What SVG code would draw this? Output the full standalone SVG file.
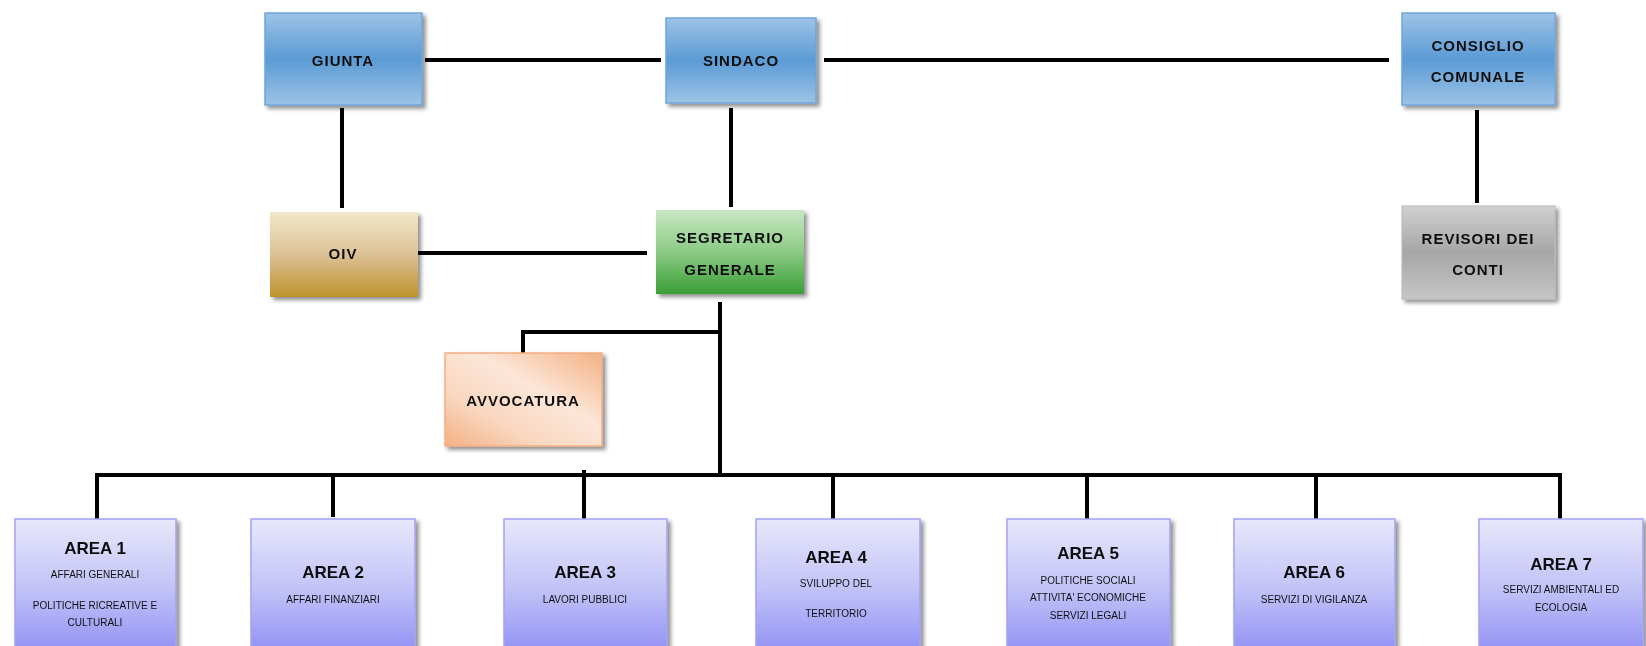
<svg xmlns="http://www.w3.org/2000/svg" width="1646" height="646" viewBox="0 0 1646 646">
<defs>
  <linearGradient id="gBlue" x1="0" y1="0" x2="0" y2="1">
    <stop offset="0" stop-color="#9DC3E6"/>
    <stop offset="0.5" stop-color="#5B9BD5"/>
    <stop offset="1" stop-color="#9DC3E6"/>
  </linearGradient>
  <linearGradient id="gGold" x1="0" y1="0" x2="0" y2="1">
    <stop offset="0" stop-color="#F3E7CB"/>
    <stop offset="0.5" stop-color="#DCC196"/>
    <stop offset="1" stop-color="#BF922D"/>
  </linearGradient>
  <linearGradient id="gGreen" x1="0" y1="0" x2="0" y2="1">
    <stop offset="0" stop-color="#C8E7C3"/>
    <stop offset="0.5" stop-color="#8CCB85"/>
    <stop offset="1" stop-color="#3A9E36"/>
  </linearGradient>
  <linearGradient id="gGray" x1="0" y1="0" x2="0" y2="1">
    <stop offset="0" stop-color="#D0D0D0"/>
    <stop offset="0.5" stop-color="#A6A6A6"/>
    <stop offset="1" stop-color="#C6C6C6"/>
  </linearGradient>
  <linearGradient id="gOrange" x1="0" y1="1" x2="1" y2="0">
    <stop offset="0" stop-color="#F4B183"/>
    <stop offset="0.3" stop-color="#F9D7C0"/>
    <stop offset="0.6" stop-color="#FCE6D8"/>
    <stop offset="1" stop-color="#F4B183"/>
  </linearGradient>
  <linearGradient id="gArea" x1="0" y1="0" x2="0" y2="1">
    <stop offset="0" stop-color="#E8E8FB"/>
    <stop offset="0.5" stop-color="#C2C2F8"/>
    <stop offset="1" stop-color="#8C8CF4"/>
  </linearGradient>
  <filter id="shadow" x="-10%" y="-10%" width="125%" height="125%">
    <feGaussianBlur in="SourceAlpha" stdDeviation="2"/>
    <feOffset dx="3" dy="3" result="b"/>
    <feComponentTransfer><feFuncA type="linear" slope="0.45"/></feComponentTransfer>
    <feMerge><feMergeNode/><feMergeNode in="SourceGraphic"/></feMerge>
  </filter>
</defs>
<style>
  .box { filter: url(#shadow); }
  .blue { fill: url(#gBlue); stroke: #6FA5DA; stroke-width: 1.5; }
  .gold { fill: url(#gGold); stroke: none; }
  .green { fill: url(#gGreen); stroke: none; }
  .gray { fill: url(#gGray); stroke: #B8B8B8; stroke-width: 1; }
  .orange { fill: url(#gOrange); stroke: #F2AF82; stroke-width: 1.5; }
  .area { fill: url(#gArea); stroke: #A3A3F2; stroke-width: 1.5; }
  .lbl { font-family: "Liberation Sans", Arial, sans-serif; font-weight: bold; font-size: 15px; fill: #111; text-anchor: middle; letter-spacing: 1px; }
  .ttl { font-family: "Liberation Sans", Arial, sans-serif; font-weight: bold; font-size: 17px; fill: #111; text-anchor: middle; }
  .sub { font-family: "Liberation Sans", Arial, sans-serif; font-size: 10px; fill: #111; text-anchor: middle; }
  .conn { stroke: #000; stroke-width: 4; fill: none; }
</style>
<rect width="1646" height="646" fill="#FFFFFF"/>

<g id="connectors">
  <line class="conn" x1="425" y1="60" x2="661" y2="60"/>
  <line class="conn" x1="824" y1="60" x2="1389" y2="60"/>
  <line class="conn" x1="1477" y1="110" x2="1477" y2="203"/>
  <line class="conn" x1="342" y1="108" x2="342" y2="208"/>
  <line class="conn" x1="731" y1="108" x2="731" y2="207"/>
  <line class="conn" x1="418" y1="253" x2="647" y2="253"/>
  <line class="conn" x1="720" y1="302" x2="720" y2="475"/>
  <polyline class="conn" points="720,332 523,332 523,353"/>
  <polyline class="conn" points="97,519 97,475 1560,475 1560,519"/>
  <line class="conn" x1="333" y1="475" x2="333" y2="517"/>
  <line class="conn" x1="584" y1="470" x2="584" y2="519"/>
  <line class="conn" x1="833" y1="475" x2="833" y2="519"/>
  <line class="conn" x1="1087" y1="475" x2="1087" y2="519"/>
  <line class="conn" x1="1316" y1="475" x2="1316" y2="519"/>
</g>

<g id="giunta" class="box">
  <rect class="blue" x="265" y="13" width="157" height="92"/>
  <text class="lbl" x="343" y="66">GIUNTA</text>
</g>
<g id="sindaco" class="box">
  <rect class="blue" x="666" y="18" width="150" height="85" stroke="none"/>
  <text class="lbl" x="741" y="66">SINDACO</text>
</g>
<g id="consiglio" class="box">
  <rect class="blue" x="1402" y="13" width="153" height="92"/>
  <text class="lbl" x="1478" y="51">CONSIGLIO</text>
  <text class="lbl" x="1478" y="82">COMUNALE</text>
</g>
<g id="revisori" class="box">
  <rect class="gray" x="1402" y="206" width="153" height="93"/>
  <text class="lbl" x="1478" y="244">REVISORI DEI</text>
  <text class="lbl" x="1478" y="275">CONTI</text>
</g>
<g id="oiv" class="box">
  <rect class="gold" x="270" y="212" width="148" height="85"/>
  <text class="lbl" x="343" y="259">OIV</text>
</g>
<g id="segretario" class="box">
  <rect class="green" x="656" y="210" width="148" height="84"/>
  <text class="lbl" x="730" y="243">SEGRETARIO</text>
  <text class="lbl" x="730" y="275">GENERALE</text>
</g>
<g id="avvocatura" class="box">
  <rect class="orange" x="445" y="353" width="157" height="93"/>
  <text class="lbl" x="523" y="406">AVVOCATURA</text>
</g>

<g id="area1" class="box">
  <rect class="area" x="15" y="519" width="161" height="140"/>
  <text class="ttl" x="95" y="554">AREA 1</text>
  <text class="sub" x="95" y="578">AFFARI GENERALI</text>
  <text class="sub" x="95" y="609">POLITICHE RICREATIVE E</text>
  <text class="sub" x="95" y="626">CULTURALI</text>
</g>
<g id="area2" class="box">
  <rect class="area" x="251" y="519" width="164" height="140"/>
  <text class="ttl" x="333" y="578">AREA 2</text>
  <text class="sub" x="333" y="603">AFFARI FINANZIARI</text>
</g>
<g id="area3" class="box">
  <rect class="area" x="504" y="519" width="163" height="140"/>
  <text class="ttl" x="585" y="578">AREA 3</text>
  <text class="sub" x="585" y="603">LAVORI PUBBLICI</text>
</g>
<g id="area4" class="box">
  <rect class="area" x="756" y="519" width="164" height="140"/>
  <text class="ttl" x="836" y="563">AREA 4</text>
  <text class="sub" x="836" y="587">SVILUPPO DEL</text>
  <text class="sub" x="836" y="617">TERRITORIO</text>
</g>
<g id="area5" class="box">
  <rect class="area" x="1007" y="519" width="163" height="140"/>
  <text class="ttl" x="1088" y="559">AREA 5</text>
  <text class="sub" x="1088" y="584">POLITICHE SOCIALI</text>
  <text class="sub" x="1088" y="601">ATTIVITA' ECONOMICHE</text>
  <text class="sub" x="1088" y="619">SERVIZI LEGALI</text>
</g>
<g id="area6" class="box">
  <rect class="area" x="1234" y="519" width="161" height="140"/>
  <text class="ttl" x="1314" y="578">AREA 6</text>
  <text class="sub" x="1314" y="603">SERVIZI DI VIGILANZA</text>
</g>
<g id="area7" class="box">
  <rect class="area" x="1479" y="519" width="164" height="140"/>
  <text class="ttl" x="1561" y="570">AREA 7</text>
  <text class="sub" x="1561" y="593">SERVIZI AMBIENTALI ED</text>
  <text class="sub" x="1561" y="611">ECOLOGIA</text>
</g>
</svg>
